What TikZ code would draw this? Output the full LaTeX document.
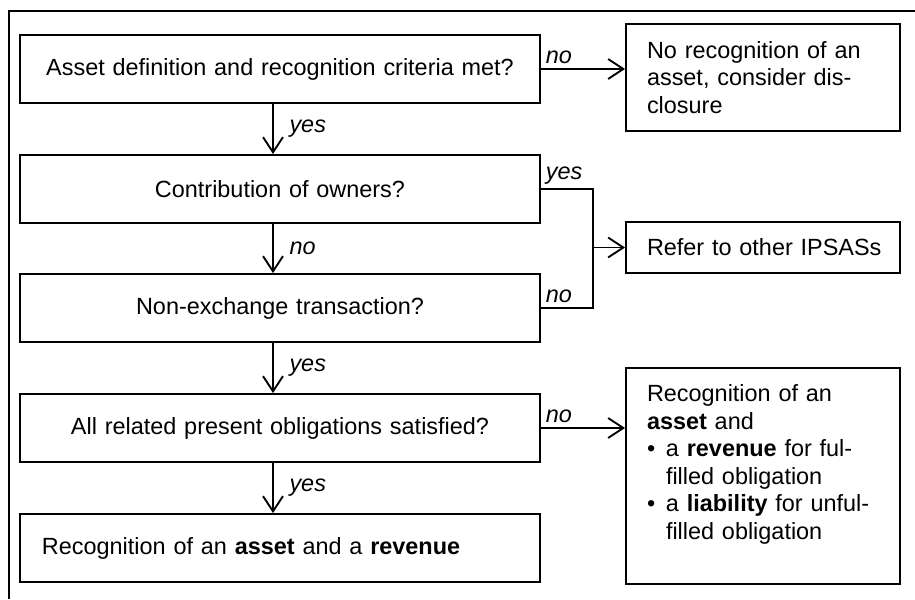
\documentclass[tikz,border=0pt]{standalone}
\usepackage{fontspec}
\setmainfont{Liberation Sans}
\usetikzlibrary{arrows.meta}

\begin{document}
\begin{tikzpicture}
    [%%%%%%%%%%%%%%%%%%%%%%%%%%%%%%
        x=0.3mm,y=-0.3mm,line width=1.6pt,
        font=\fontsize{20}{23.5}\selectfont,
        box/.style={rectangle,draw=black,minimum width=156mm,minimum height=20.4mm,text width=142.8mm,inner xsep=6.6mm,align=center},
        sidebox/.style={rectangle,draw=black,minimum width=82.2mm,text width=69.6mm,inner xsep=6.3mm,align=left},
        flow/.style={-{Straight Barb[length=13pt,width=17pt]}},
        answer/.style={font=\fontsize{20}{23.5}\selectfont\itshape}
    ]%%%%%%%%%%%%%%%%%%%%%%%%%%%%%%

\useasboundingbox (0,0) rectangle (915,599);
\draw (9,599) -- (9,11) -- (915,11);

\node[box] (q1) at (280,69) {Asset definition and recognition criteria met?};
\node[box] (q2) at (280,189) {Contribution of owners?};
\node[box] (q3) at (280,308) {Non-exchange transaction?};
\node[box] (q4) at (280,428) {All related present obligations satisfied?};
\node[box,align=left] (done) at (280,548) {Recognition of an \textbf{asset} and a \textbf{revenue}};

\node[sidebox,minimum height=32.1mm] (noasset) at (763,77.5) {No recognition of an\\asset, consider dis-\\closure};
\node[sidebox,minimum height=15.3mm] (refer) at (763,247.5) {\mbox{Refer to other IPSASs}};
\node[sidebox,anchor=north,inner ysep=5mm] (partial) at (763,367) {\parbox[c][54.8mm][t]{69.6mm}{Recognition of an\\
    \textbf{asset} and\\
    \makebox[5.7mm][l]{\textbullet}a \textbf{revenue} for ful-\\
    \hspace*{5.7mm}filled obligation\\
    \makebox[5.7mm][l]{\textbullet}a \textbf{liability} for unful-\\
    \hspace*{5.7mm}filled obligation}};

\coordinate (spine) at (273,0);
\coordinate (bar) at (593,0);

\foreach \a/\b/\t in {q1/q2/yes,q2/q3/no,q3/q4/yes,q4/done/yes}
    \draw[flow] (\a.south -| spine) -- node[answer,right=3.5mm]{\t} (\b.north -| spine);

\draw[flow] (q1.east) -- node[answer,above right,pos=0]{no} (q1.east -| noasset.west);
\draw (q2.east) -- node[answer,above right,pos=0]{yes} (q2.east -| bar) -- (q3.east -| bar) -- node[answer,above right,pos=1]{no} (q3.east);
\draw[flow] (refer.west -| bar) -- (refer.west);
\draw[flow] (q4.east) -- node[answer,above right,pos=0]{no} (q4.east -| partial.west);

\end{tikzpicture}
\end{document}
